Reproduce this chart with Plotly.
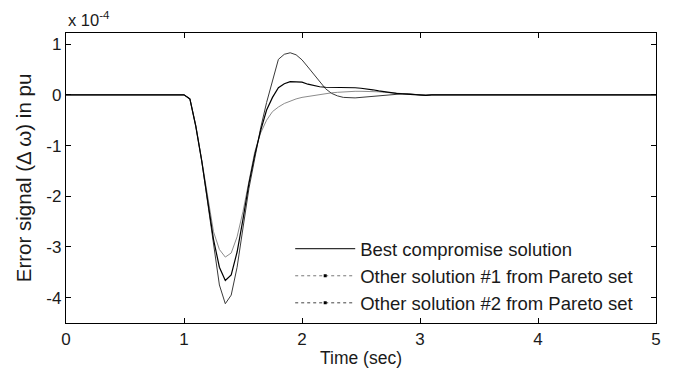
import plotly.graph_objects as go

# Time axis (sec)
time = [0.0, 0.5, 1.0, 1.05, 1.10, 1.15, 1.20, 1.25, 1.30, 1.35, 1.40, 1.45, 1.50,
        1.55, 1.60, 1.65, 1.70, 1.75, 1.80, 1.85, 1.90, 1.95, 2.00, 2.05, 2.10,
        2.15, 2.20, 2.25, 2.30, 2.35, 2.40, 2.45, 2.50, 2.55, 2.60, 2.65, 2.70,
        2.75, 2.80, 2.85, 2.90, 2.95, 3.00, 3.05, 3.10, 3.50, 4.0, 4.5, 5.0]

# Error signal values, in units of 1e-4 pu
best = [0, 0, 0, -0.08, -0.62, -1.30, -2.05, -2.85, -3.40, -3.66, -3.55, -3.10, -2.45,
        -1.75, -1.18, -0.70, -0.30, -0.05, 0.14, 0.22, 0.26, 0.26, 0.25, 0.21, 0.18,
        0.16, 0.15, 0.15, 0.15, 0.15, 0.15, 0.14, 0.13, 0.12, 0.10, 0.08, 0.06,
        0.04, 0.03, 0.02, 0.01, 0.00, -0.01, -0.01, 0.00, 0, 0, 0, 0]
other1 = [0, 0, 0, -0.08, -0.60, -1.28, -2.00, -2.70, -3.05, -3.20, -3.12, -2.80, -2.30,
          -1.70, -1.12, -0.75, -0.50, -0.33, -0.24, -0.17, -0.12, -0.08, -0.05, -0.03, -0.01,
          0.01, 0.03, 0.04, 0.05, 0.06, 0.07, 0.07, 0.07, 0.07, 0.07, 0.06, 0.05,
          0.04, 0.03, 0.02, 0.01, 0.00, 0.00, 0.00, 0.00, 0, 0, 0, 0]
other2 = [0, 0, 0, -0.08, -0.62, -1.30, -2.10, -3.00, -3.75, -4.12, -3.95, -3.40, -2.60,
          -1.85, -1.25, -0.65, -0.15, 0.30, 0.70, 0.80, 0.83, 0.79, 0.69, 0.55, 0.40,
          0.26, 0.12, 0.03, -0.02, -0.05, -0.06, -0.06, -0.05, -0.04, -0.03, -0.02, 0.00,
          0.01, 0.02, 0.02, 0.02, 0.01, 0.00, -0.01, 0.00, 0, 0, 0, 0]

legend_names = ["Best compromise solution",
                "Other solution #1 from Pareto set",
                "Other solution #2 from Pareto set"]

xticks = [0, 1, 2, 3, 4, 5]
yticks = [1, 0, -1, -2, -3, -4]

FONT = "Liberation Sans, Arial, sans-serif"

fig = go.Figure()

# Curves (drawn without legend entries)
fig.add_trace(go.Scatter(x=time, y=other1, mode="lines", showlegend=False,
                         line=dict(color="#8c8c8c", width=1)))
fig.add_trace(go.Scatter(x=time, y=other2, mode="lines", showlegend=False,
                         line=dict(color="#3a3a3a", width=1)))
fig.add_trace(go.Scatter(x=time, y=best, mode="lines", showlegend=False,
                         line=dict(color="#000000", width=1.2)))

# Legend entries
fig.add_trace(go.Scatter(x=[None], y=[None], mode="lines", name=legend_names[0],
                         line=dict(color="#333333", width=1.3)))
fig.add_trace(go.Scatter(x=[None], y=[None], mode="lines+markers", name=legend_names[1],
                         line=dict(color="#777777", width=1, dash="dot"),
                         marker=dict(symbol="square", size=3, color="#000000")))
fig.add_trace(go.Scatter(x=[None], y=[None], mode="lines+markers", name=legend_names[2],
                         line=dict(color="#444444", width=1, dash="dot"),
                         marker=dict(symbol="square", size=3, color="#000000")))

fig.update_layout(
    width=675, height=377,
    margin=dict(l=66, r=19, t=33, b=54),
    paper_bgcolor="white", plot_bgcolor="white",
    font=dict(family=FONT, size=17, color="#1a1a1a"),
    legend=dict(x=0.38, y=0.32, xanchor="left", yanchor="top",
                bgcolor="rgba(0,0,0,0)", borderwidth=0,
                font=dict(family=FONT, size=18.5, color="#1a1a1a"),
                itemwidth=60, tracegroupgap=0),
    xaxis=dict(range=[0, 5], tickvals=xticks, ticktext=[str(v) for v in xticks],
               ticks="inside", ticklen=5, tickcolor="#000",
               showline=True, linecolor="#000", linewidth=1.3, mirror="ticks",
               showgrid=False, zeroline=False,
               title=dict(text="Time (sec)", standoff=4,
                          font=dict(family=FONT, size=17.5))),
    yaxis=dict(range=[-4.5, 1.22], tickvals=yticks, ticktext=[str(v) for v in yticks],
               ticks="inside", ticklen=5, tickcolor="#000",
               showline=True, linecolor="#000", linewidth=1.3, mirror="ticks",
               showgrid=False, zeroline=False,
               title=dict(text="Error signal (\u0394 \u03c9) in pu", standoff=9,
                          font=dict(family=FONT, size=20.5))),
    annotations=[dict(text="x 10<sup>-4</sup>", xref="paper", yref="paper",
                      x=0, y=1, xanchor="left", yanchor="bottom", yshift=2,
                      showarrow=False, font=dict(family=FONT, size=16.5, color="#1a1a1a"))],
)

fig.write_html("out.html")
